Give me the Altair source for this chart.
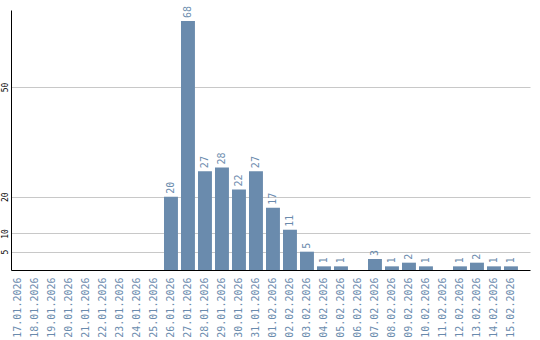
import altair as alt
import pandas as pd

dates = ["17.01.2026", "18.01.2026", "19.01.2026", "20.01.2026", "21.01.2026",
         "22.01.2026", "23.01.2026", "24.01.2026", "25.01.2026", "26.01.2026",
         "27.01.2026", "28.01.2026", "29.01.2026", "30.01.2026", "31.01.2026",
         "01.02.2026", "02.02.2026", "03.02.2026", "04.02.2026", "05.02.2026",
         "06.02.2026", "07.02.2026", "08.02.2026", "09.02.2026", "10.02.2026",
         "11.02.2026", "12.02.2026", "13.02.2026", "14.02.2026", "15.02.2026"]
values = [0, 0, 0, 0, 0, 0, 0, 0, 0, 20,
          68, 27, 28, 22, 27, 17, 11, 5, 1, 1,
          0, 3, 1, 2, 1, 0, 1, 2, 1, 1]
y_ticks = [5, 10, 20, 50]

df = pd.DataFrame({"date": dates, "value": values})
df["label"] = df["value"].apply(lambda v: str(v) if v > 0 else "")

BLUE = "#6a8bad"

x = alt.X("date:N", sort=dates, title=None,
          scale=alt.Scale(paddingInner=0.18, paddingOuter=0.355, align=0),
          axis=alt.Axis(labelAngle=-90, labelColor=BLUE, labelFont="DejaVu Sans Mono",
                        labelFontSize=10, ticks=False, domainColor="black",
                        labelPadding=7, labelAlign="right", labelBaseline="middle"))
y = alt.Y("value:Q", title=None,
          scale=alt.Scale(domain=[0, 71], nice=False),
          axis=alt.Axis(values=y_ticks, grid=True, gridColor="#c8c8c8", ticks=False,
                        domainColor="black", labelAngle=-90, labelFontSize=8,
                        labelFont="DejaVu Sans Mono", labelColor="black",
                        labelAlign="center", labelBaseline="bottom", labelPadding=2))

bars = alt.Chart(df).mark_bar(color=BLUE).encode(x=x, y=y)
text = alt.Chart(df).mark_text(angle=270, align="left", baseline="middle", dx=3,
                               color=BLUE, font="DejaVu Sans Mono", fontSize=10).encode(
    x=alt.X("date:N", sort=dates), y="value:Q", text="label:N")

chart = (bars + text).properties(
    width=519, height=260,
    autosize=alt.AutoSizeParams(type="none"),
    padding={"left": 11, "top": 10, "right": 10, "bottom": 70},
).configure_view(stroke=None).configure_axis(domainWidth=1)

chart.save("out.html", embed_options={"renderer": "svg", "actions": False})
